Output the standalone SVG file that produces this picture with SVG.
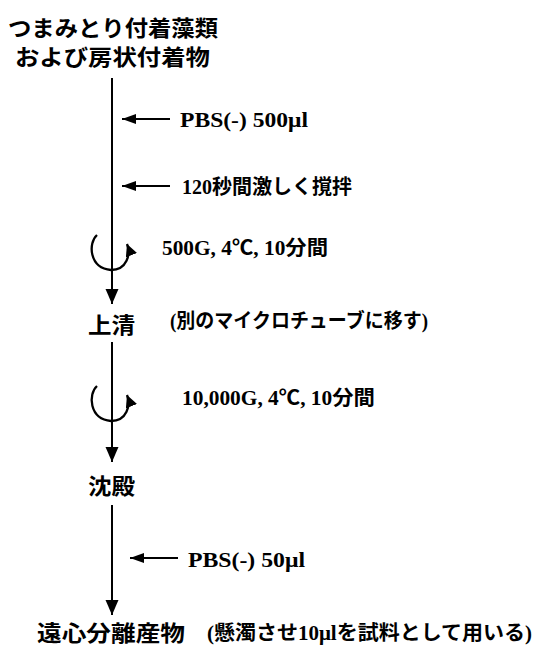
<svg xmlns="http://www.w3.org/2000/svg" xmlns:xlink="http://www.w3.org/1999/xlink" width="535" height="647" viewBox="0 0 535 647">
<style>
.g{font-family:"Noto Sans CJK JP","Noto Sans",sans-serif;font-weight:bold;font-size:22px;fill:#000}
.m{font-family:"Liberation Serif","Noto Sans CJK JP",serif;font-weight:bold;font-size:20px;fill:#000}
.ln{stroke:#000;stroke-width:2;fill:none}
.sp{stroke:#000;stroke-width:2.3;fill:none}
</style>
<defs>
<marker id="down" markerUnits="userSpaceOnUse" markerWidth="16" markerHeight="14" refX="15" refY="6.5" orient="auto">
<path d="M0,0 L15,6.5 L0,13 z" fill="#000"/>
</marker>
<marker id="small" markerUnits="userSpaceOnUse" markerWidth="15" markerHeight="11" refX="14" refY="5" orient="auto">
<path d="M0,0 L14,5 L0,10 z" fill="#000"/>
</marker>
<marker id="rot" markerUnits="userSpaceOnUse" markerWidth="14" markerHeight="13" refX="12" refY="6" orient="auto">
<path d="M0,0 L12,6 L0,12 z" fill="#000"/>
</marker>
<path id="spin" class="sp" d="M97,235 C88,243 89,268 111,270 C127,270 131,254 127,244" marker-end="url(#rot)"/>
</defs>

<g id="node-start">
<text class="g" x="113" y="36" text-anchor="middle" textLength="210" lengthAdjust="spacingAndGlyphs">つまみとり付着藻類</text>
<text class="g" x="112.5" y="65" text-anchor="middle" textLength="195" lengthAdjust="spacingAndGlyphs">および房状付着物</text>
</g>
<g id="node-supernatant">
<text class="g" x="88" y="333" font-size="23" textLength="47" lengthAdjust="spacingAndGlyphs">上清</text>
<text class="m" x="170" y="328" textLength="258" lengthAdjust="spacingAndGlyphs">(別のマイクロチューブに移す)</text>
</g>
<g id="node-precipitate">
<text class="g" x="88" y="494" font-size="23" textLength="47" lengthAdjust="spacingAndGlyphs">沈殿</text>
</g>
<g id="node-product">
<text class="g" x="37" y="641" font-size="23" textLength="148" lengthAdjust="spacingAndGlyphs">遠心分離産物</text>
<text class="m" x="207" y="640" textLength="325" lengthAdjust="spacingAndGlyphs">(懸濁させ10μlを試料として用いる)</text>
</g>

<g id="labels">
<text class="m" x="180" y="127" textLength="128" lengthAdjust="spacingAndGlyphs">PBS(-) 500μl</text>
<text class="m" x="182" y="194" textLength="170" lengthAdjust="spacingAndGlyphs">120秒間激しく撹拌</text>
<text class="m" x="162" y="255" textLength="166" lengthAdjust="spacingAndGlyphs">500G, 4℃, 10分間</text>
<text class="m" x="182" y="405" textLength="193" lengthAdjust="spacingAndGlyphs">10,000G, 4℃, 10分間</text>
<text class="m" x="188" y="567" textLength="117" lengthAdjust="spacingAndGlyphs">PBS(-) 50μl</text>
</g>

<g id="connectors">
<line class="ln" x1="112" y1="78" x2="112" y2="304" marker-end="url(#down)"/>
<line class="ln" x1="112" y1="342" x2="112" y2="462" marker-end="url(#down)"/>
<line class="ln" x1="112" y1="505" x2="112" y2="615" marker-end="url(#down)"/>
<line class="ln" x1="170" y1="119" x2="122" y2="119" marker-end="url(#small)"/>
<line class="ln" x1="170" y1="186" x2="122" y2="186" marker-end="url(#small)"/>
<line class="ln" x1="178" y1="558" x2="130" y2="558" marker-end="url(#small)"/>
<use xlink:href="#spin"/>
<use xlink:href="#spin" transform="translate(0,151)"/>
</g>
</svg>
